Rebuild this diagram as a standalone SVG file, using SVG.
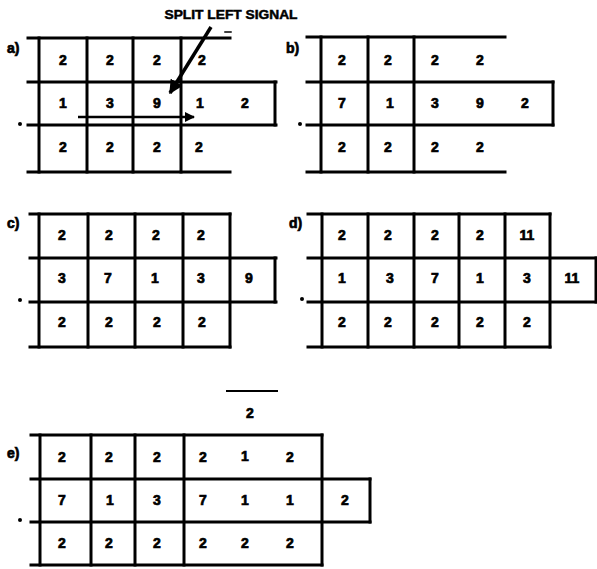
<svg xmlns="http://www.w3.org/2000/svg" width="597" height="569" viewBox="0 0 597 569">
<defs>
<marker id="ah" viewBox="0 0 10 10" refX="9" refY="5" markerWidth="4" markerHeight="4" orient="auto" markerUnits="strokeWidth">
<path d="M0,0 L10,5 L0,10 z" fill="#000"/>
</marker>
<style>
.g line{stroke:#000;stroke-width:3;stroke-linecap:square}
.g text,.lbl{font-family:"Liberation Sans",Arial,sans-serif;font-weight:bold;font-size:14px;fill:#000;stroke:#000;stroke-width:0.7;text-anchor:middle}
.dot{fill:#000}
.arr{stroke:#000;fill:none}
</style>
</defs>
<rect width="597" height="569" fill="#fff"/>

<text x="231" y="19" class="lbl" style="font-size:13px;stroke-width:0.5" textLength="133" lengthAdjust="spacingAndGlyphs">SPLIT LEFT SIGNAL</text>

<g id="panel-a" class="g">
<text x="7" y="53" style="text-anchor:start">a)</text>
<circle class="dot" cx="20" cy="124" r="2"/>
<line x1="28" y1="38" x2="230" y2="38"/>
<line x1="225" y1="32" x2="231" y2="32" style="stroke-width:1.5"/>
<line x1="28" y1="82" x2="276" y2="82"/>
<line x1="28" y1="125" x2="276" y2="125"/>
<line x1="28" y1="172" x2="230" y2="172"/>
<line x1="39" y1="38" x2="39" y2="172"/>
<line x1="87" y1="38" x2="87" y2="172"/>
<line x1="133" y1="38" x2="133" y2="172"/>
<line x1="181" y1="38" x2="181" y2="172"/>
<line x1="275" y1="82" x2="275" y2="125"/>
<text x="63" y="65">2</text><text x="110" y="65">2</text><text x="157" y="65">2</text><text x="202" y="65">2</text>
<text x="63" y="108">1</text><text x="110" y="108">3</text><text x="157" y="108">9</text><text x="200" y="108">1</text><text x="245" y="108">2</text>
<text x="63" y="152">2</text><text x="110" y="152">2</text><text x="157" y="152">2</text><text x="199" y="152">2</text>
</g>

<g id="panel-b" class="g">
<text x="286" y="53" style="text-anchor:start">b)</text>
<circle class="dot" cx="300" cy="124" r="2"/>
<line x1="307" y1="37" x2="505" y2="37"/>
<line x1="307" y1="82" x2="553" y2="82"/>
<line x1="307" y1="125" x2="553" y2="125"/>
<line x1="307" y1="172" x2="505" y2="172"/>
<line x1="321" y1="37" x2="321" y2="172"/>
<line x1="368" y1="37" x2="368" y2="172"/>
<line x1="414" y1="37" x2="414" y2="172"/>
<line x1="553" y1="82" x2="553" y2="125"/>
<text x="342" y="65">2</text><text x="388" y="65">2</text><text x="435" y="65">2</text><text x="480" y="65">2</text>
<text x="342" y="108">7</text><text x="390" y="108">1</text><text x="435" y="108">3</text><text x="480" y="108">9</text><text x="525" y="108">2</text>
<text x="342" y="152">2</text><text x="388" y="152">2</text><text x="435" y="152">2</text><text x="480" y="152">2</text>
</g>

<g id="panel-c" class="g">
<text x="7" y="228" style="text-anchor:start">c)</text>
<circle class="dot" cx="20" cy="300" r="2"/>
<line x1="30" y1="214" x2="230" y2="214"/>
<line x1="30" y1="258" x2="276" y2="258"/>
<line x1="30" y1="302" x2="276" y2="302"/>
<line x1="30" y1="347" x2="230" y2="347"/>
<line x1="39" y1="214" x2="39" y2="347"/>
<line x1="88" y1="214" x2="88" y2="347"/>
<line x1="135" y1="214" x2="135" y2="347"/>
<line x1="183" y1="214" x2="183" y2="347"/>
<line x1="230" y1="214" x2="230" y2="347"/>
<line x1="275" y1="258" x2="275" y2="302"/>
<text x="62" y="240">2</text><text x="109" y="240">2</text><text x="156" y="240">2</text><text x="201" y="240">2</text>
<text x="62" y="283">3</text><text x="108" y="283">7</text><text x="155" y="283">1</text><text x="201" y="283">3</text><text x="249" y="283">9</text>
<text x="62" y="327">2</text><text x="109" y="327">2</text><text x="157" y="327">2</text><text x="202" y="327">2</text>
</g>

<g id="panel-d" class="g">
<text x="289" y="228" style="text-anchor:start">d)</text>
<circle class="dot" cx="302" cy="299" r="2"/>
<line x1="308" y1="214" x2="550" y2="214"/>
<line x1="308" y1="258" x2="597" y2="258"/>
<line x1="308" y1="302" x2="597" y2="302"/>
<line x1="308" y1="347" x2="550" y2="347"/>
<line x1="322" y1="214" x2="322" y2="347"/>
<line x1="368" y1="214" x2="368" y2="347"/>
<line x1="414" y1="214" x2="414" y2="347"/>
<line x1="459" y1="214" x2="459" y2="347"/>
<line x1="505" y1="214" x2="505" y2="347"/>
<line x1="550" y1="214" x2="550" y2="347"/>
<line x1="596" y1="258" x2="596" y2="302"/>
<text x="342" y="240">2</text><text x="388" y="240">2</text><text x="435" y="240">2</text><text x="480" y="240">2</text><text x="527" y="240">11</text>
<text x="342" y="283">1</text><text x="390" y="283">3</text><text x="435" y="283">7</text><text x="480" y="283">1</text><text x="527" y="283">3</text><text x="572" y="283">11</text>
<text x="342" y="327">2</text><text x="388" y="327">2</text><text x="435" y="327">2</text><text x="480" y="327">2</text><text x="527" y="327">2</text>
</g>

<g id="panel-e" class="g">
<text x="7" y="458" style="text-anchor:start">e)</text>
<circle class="dot" cx="20" cy="520" r="2"/>
<line x1="227" y1="391" x2="277" y2="391" style="stroke-width:2"/>
<text x="250" y="418">2</text>
<line x1="31" y1="435" x2="322" y2="435"/>
<line x1="31" y1="479" x2="370" y2="479"/>
<line x1="31" y1="522" x2="370" y2="522"/>
<line x1="31" y1="565" x2="322" y2="565"/>
<line x1="40" y1="435" x2="40" y2="565"/>
<line x1="91" y1="435" x2="91" y2="565"/>
<line x1="135" y1="435" x2="135" y2="565"/>
<line x1="184" y1="435" x2="184" y2="565"/>
<line x1="322" y1="435" x2="322" y2="565"/>
<line x1="370" y1="479" x2="370" y2="522"/>
<text x="62" y="462">2</text><text x="109" y="462">2</text><text x="157" y="462">2</text><text x="203" y="462">2</text><text x="245" y="461">1</text><text x="290" y="462">2</text>
<text x="62" y="505">7</text><text x="110" y="505">1</text><text x="157" y="505">3</text><text x="203" y="505">7</text><text x="245" y="505">1</text><text x="290" y="505">1</text><text x="345" y="505">2</text>
<text x="62" y="548">2</text><text x="109" y="548">2</text><text x="157" y="548">2</text><text x="203" y="548">2</text><text x="245" y="548">2</text><text x="290" y="548">2</text>
</g>

<g id="connectors">
<line class="arr" x1="78" y1="117" x2="194" y2="117" stroke-width="2.5" marker-end="url(#ah)"/>
<line class="arr" x1="211" y1="27" x2="170" y2="93" stroke-width="3.5" marker-end="url(#ah)"/>
</g>
</svg>
